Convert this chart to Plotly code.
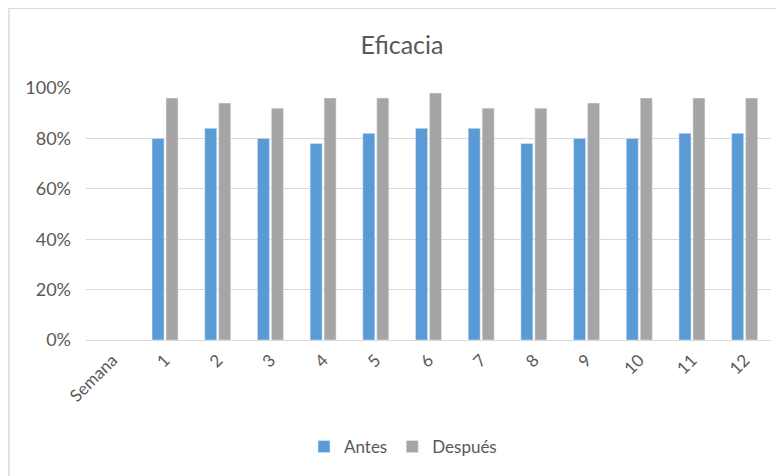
import plotly.graph_objects as go

categories = ["Semana", "1", "2", "3", "4", "5", "6", "7", "8", "9", "10", "11", "12"]
antes = [None, 0.80, 0.84, 0.80, 0.78, 0.82, 0.84, 0.84, 0.78, 0.80, 0.80, 0.82, 0.82]
despues = [None, 0.96, 0.94, 0.92, 0.96, 0.96, 0.98, 0.92, 0.92, 0.94, 0.96, 0.96, 0.96]
y_ticks = [0, 0.2, 0.4, 0.6, 0.8, 1.0]

FONT = "Lato"
TXT = "#595959"

fig = go.Figure()
fig.add_trace(go.Bar(x=categories, y=antes, name="Antes", marker_color="#5B9BD5"))
fig.add_trace(go.Bar(x=categories, y=despues, name="Después", marker_color="#A5A5A5"))

OFF = 8  # page body margin
W, H = 784 - OFF, 476 - OFF
L, R, T, B = 86 - OFF, 13, 88 - OFF, 135
pw, ph = W - L - R, H - T - B

# helpers to convert reference page pixels into paper coordinates
def px(x):
    return (x - OFF - L) / pw

def py(y):
    return (H - B - (y - OFF)) / ph

fig.update_layout(
    width=W, height=H,
    margin=dict(l=L, r=R, t=T, b=B),
    paper_bgcolor="white", plot_bgcolor="white",
    font=dict(family=FONT, color=TXT, size=18),
    title=dict(text="Eficacia", x=(402 - OFF) / W, xanchor="center", y=1 - (45 - OFF) / H, yanchor="middle",
               font=dict(family=FONT, size=25, color=TXT)),
    barmode="group", bargap=0.47, bargroupgap=0.14,
    showlegend=True,
    legend=dict(orientation="h", x=px(403), xanchor="center", y=py(447), yanchor="middle",
                font=dict(family=FONT, size=17, color=TXT), itemwidth=30,
                traceorder="normal"),
    shapes=[dict(type="rect", xref="paper", yref="paper",
                 x0=px(9), x1=px(800), y0=py(500), y1=py(8),
                 line=dict(color="#D9D9D9", width=1.5), fillcolor="rgba(0,0,0,0)", layer="below")],
)
fig.update_xaxes(type="category", tickangle=-45, showgrid=False, showline=False, ticks="",
                 tickfont=dict(family=FONT, size=17, color=TXT), ticklabelstandoff=6)
fig.update_yaxes(range=[0, 1], tickvals=y_ticks, tickformat=".0%", showgrid=True, gridcolor="#D9D9D9",
                 gridwidth=1, zeroline=True, zerolinecolor="#D9D9D9", zerolinewidth=1, ticks="",
                 tickfont=dict(family=FONT, size=18, color=TXT), ticklabelstandoff=14)

fig.write_html("out.html")
